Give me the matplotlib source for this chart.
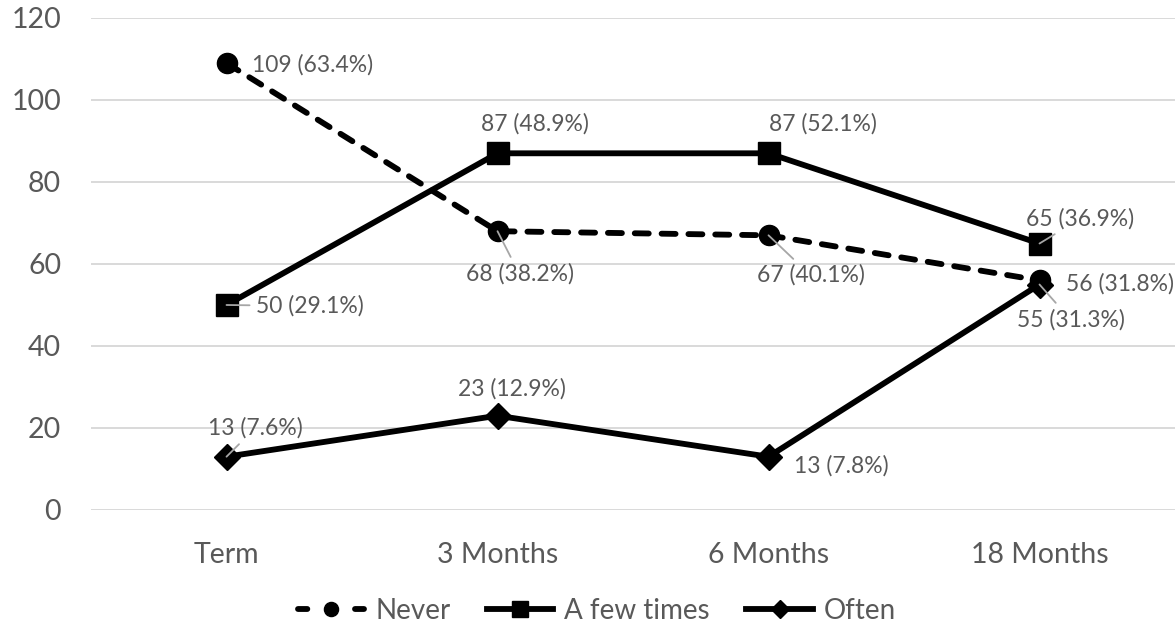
import matplotlib
matplotlib.use("Agg")
import matplotlib.pyplot as plt
from matplotlib.lines import Line2D

categories = ["Term", "3 Months", "6 Months", "18 Months"]
never = [109, 68, 67, 56]
never_pct = [63.4, 38.2, 40.1, 31.8]
few = [50, 87, 87, 65]
few_pct = [29.1, 48.9, 52.1, 36.9]
often = [13, 23, 13, 55]
often_pct = [7.6, 12.9, 7.8, 31.3]

plt.rcParams['font.family'] = ['Lato', 'DejaVu Sans']
TXT = '#595959'

fig = plt.figure(figsize=(11.75, 6.35), dpi=100)
ax = fig.add_axes([91 / 1175, (635 - 510) / 635, 1 - 91 / 1175, 492 / 635])

x = list(range(len(categories)))
lw = 4.2
l1, = ax.plot(x, never, color='black', lw=lw, ls=(0, (2.4, 2.2)), dash_capstyle='round',
              marker='o', ms=14.5, label='Never', zorder=3)
l2, = ax.plot(x, few, color='black', lw=lw, marker='s', ms=15.8, label='A few times', zorder=3)
l3, = ax.plot(x, often, color='black', lw=lw, marker='D', ms=13.2, label='Often', zorder=3)

ax.set_xlim(-0.5, 3.5)
ax.set_ylim(0, 120)
ax.set_yticks(range(0, 121, 20))
ax.set_xticks(x)
ax.set_xticklabels(categories)
ax.grid(axis='y', color='#d9d9d9', lw=1.4)
ax.set_axisbelow(True)
for s in ax.spines.values():
    s.set_visible(False)
ax.tick_params(length=0, labelsize=20.5, colors=TXT)
ax.tick_params(axis='x', pad=23)
ax.tick_params(axis='y', pad=21.5)

# label placement: (dx, dy) in pixels, horizontal alignment, leader line
offs = {
    'never': [(26, -2, 'left', False), (22, -43, 'center', True),
              (42, -40, 'center', True), (27, -3, 'left', False)],
    'few': [(30, -1, 'left', True), (37, 29, 'center', False),
            (54, 29, 'center', False), (41, 25, 'center', True)],
    'often': [(29, 29, 'center', True), (14, 27, 'center', False),
              (25, -9, 'left', False), (31, -35, 'center', True)],
}
for key, vals, pcts in [('never', never, never_pct), ('few', few, few_pct), ('often', often, often_pct)]:
    for i, (v, p) in enumerate(zip(vals, pcts)):
        dx, dy, ha, lead = offs[key][i]
        kw = {}
        if lead:
            kw['arrowprops'] = dict(arrowstyle='-', color='#a6a6a6', lw=1.3, shrinkA=3, shrinkB=0)
        ax.annotate(f"{v} ({p}%)", (i, v), xytext=(dx, dy), textcoords='offset pixels',
                    ha=ha, va='center', fontsize=16.5, color=TXT, zorder=4, **kw)

# legend proxy for the dashed series: short dash - marker - short dash
h1 = Line2D([], [], color='black', lw=lw, ls=(0, (1.6, 8.17)), dash_capstyle='round',
            marker='o', ms=14.5, label='Never')

fig.legend(handles=[h1, l2, l3], loc='center', bbox_to_anchor=(0.508, 0.038), ncol=3,
           frameon=False, fontsize=20, labelcolor=TXT, handlelength=2.4, handletextpad=0.4,
           columnspacing=1.3, markerscale=0.7)

fig.savefig("out.png", dpi=100)
